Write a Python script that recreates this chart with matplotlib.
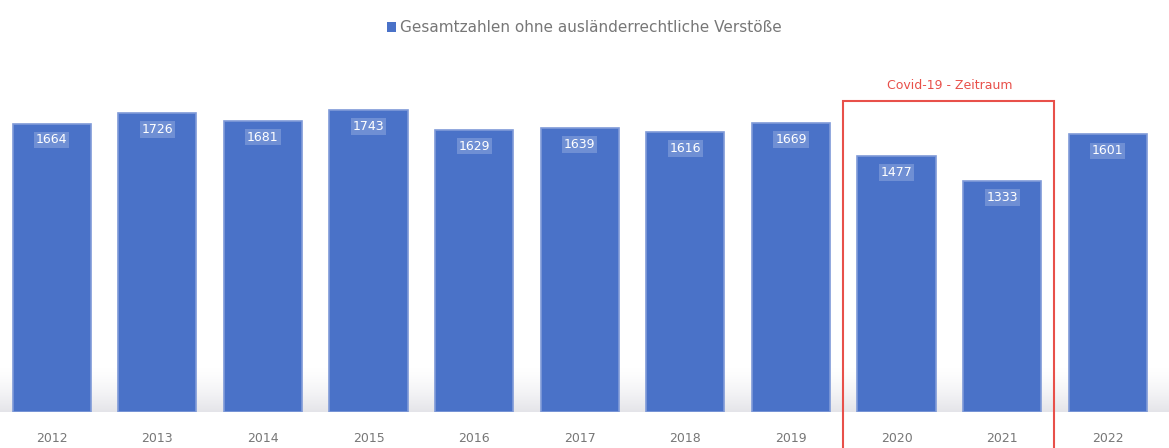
import matplotlib
matplotlib.use('Agg')
import matplotlib.pyplot as plt
from matplotlib.patches import Rectangle, Patch
import numpy as np

# Daten (aus dem Bild geschätzt)
years = ['2012', '2013', '2014', '2015', '2016', '2017', '2018', '2019', '2020', '2021', '2022']
values = [1664, 1726, 1681, 1743, 1629, 1639, 1616, 1669, 1477, 1333, 1601]
legend_label = 'Gesamtzahlen ohne ausländerrechtliche Verstöße'
covid_label = 'Covid-19 - Zeitraum'
covid_years = ['2020', '2021']

BAR_COLOR = '#4a72c8'

fig = plt.figure(figsize=(11.69, 4.48), dpi=100)
ax = fig.add_axes([0, 0.080, 1, 0.786])

x = np.arange(len(years))
ax.bar(x, values, width=0.74, color=BAR_COLOR, edgecolor='#7f9ad8',
       linewidth=1.2, zorder=3)

for xi, v in zip(x, values):
    ax.text(xi, v - 95, str(v), ha='center', va='center', color='white',
            fontsize=9, zorder=4,
            bbox=dict(boxstyle='square,pad=0.15', fc='#6f8fd4', ec='none'))

# heller grauer "Boden" hinter den Balken
alpha = np.linspace(0, 0.75, 60) ** 1.5
grad = np.zeros((60, 1, 4))
grad[:, 0, :3] = np.array([0.84, 0.84, 0.87])
grad[:, 0, 3] = alpha
ax.imshow(grad, extent=(-0.6, 10.7, 0, 260), aspect='auto',
          origin='upper', zorder=1, interpolation='bilinear')

# Covid-Rahmen
i0 = years.index(covid_years[0])
i1 = years.index(covid_years[-1])
rect = Rectangle((i0 - 0.51, -400), (i1 - i0) + 1.0, 400 + 1795, fill=False,
                 edgecolor='#e8504a', linewidth=1.5, clip_on=False, zorder=5)
ax.add_patch(rect)
ax.text((i0 + i1) / 2, 1881, covid_label, ha='center', va='center',
        color='#e8504a', fontsize=9)

ax.set_xlim(-0.49, 10.58)
ax.set_ylim(0, 2030)
ax.set_xticks(x)
ax.set_xticklabels(years, color='#777777', fontsize=9)
ax.tick_params(axis='x', length=0, pad=14)
ax.set_yticks([])
for s in ax.spines.values():
    s.set_visible(False)

handle = Patch(facecolor=BAR_COLOR, edgecolor='none')
fig.legend([handle], [legend_label], loc='center', bbox_to_anchor=(0.5, 0.938),
           frameon=False, fontsize=11, labelcolor='#777777',
           handlelength=0.6, handleheight=0.6, handletextpad=0.3)

fig.savefig('out.png', dpi=100)
